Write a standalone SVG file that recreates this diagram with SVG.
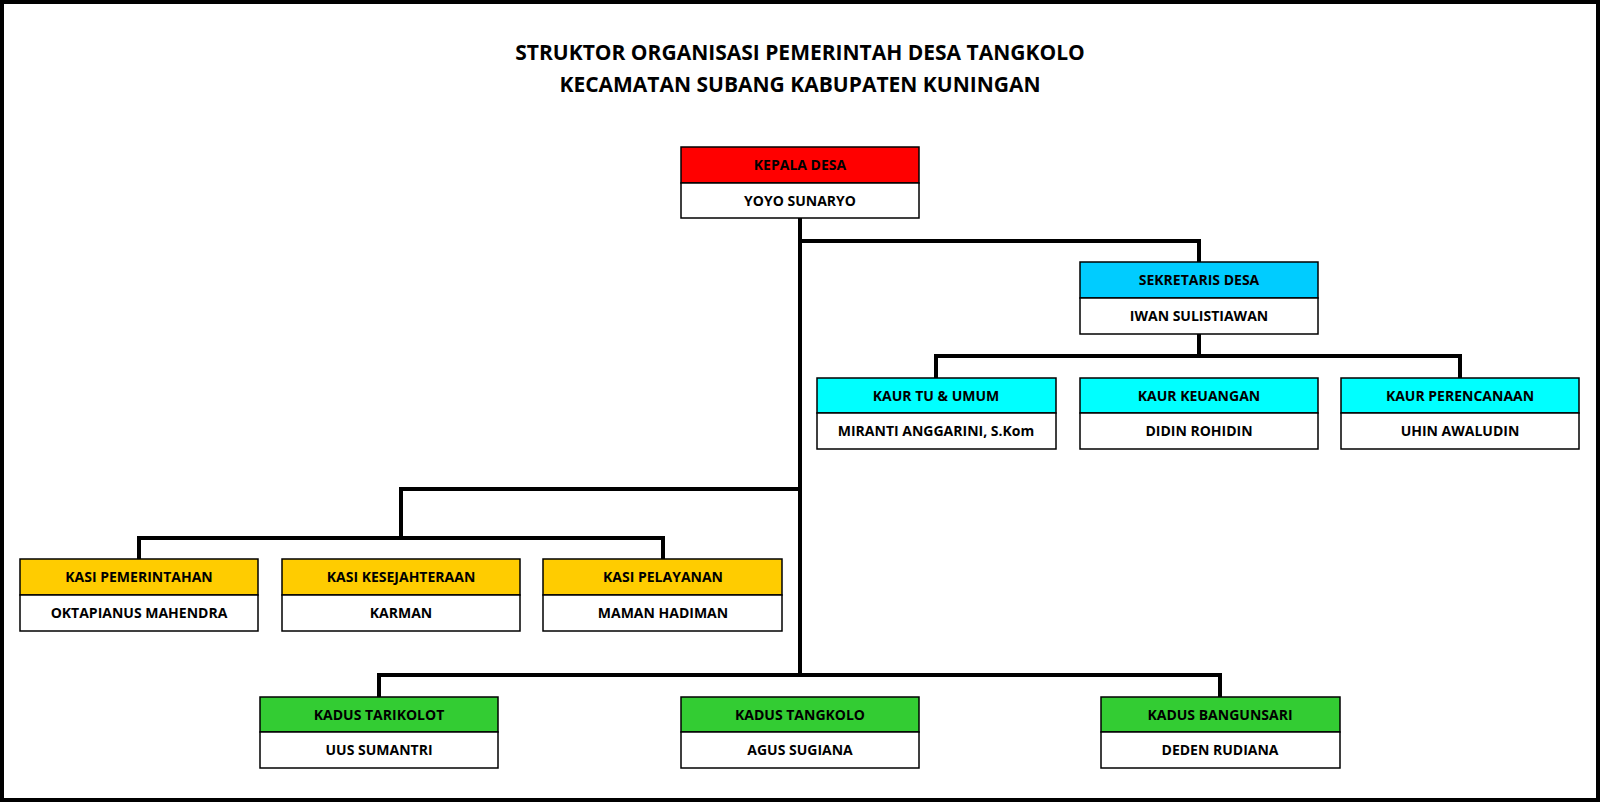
<svg xmlns="http://www.w3.org/2000/svg" width="1600" height="802" viewBox="0 0 1600 802">
<style>
.b{stroke:#000;stroke-width:1.5}
.w{fill:#fff}
t,text{font-family:"Open Sans","Liberation Sans",sans-serif;font-weight:700;text-anchor:middle}
.l{font-size:14px}
.t{font-size:21px}
.c{fill:none;stroke:#000;stroke-width:4}
</style>
<rect x="2" y="2" width="1596" height="798" fill="#fff" stroke="#000" stroke-width="4"/>
<text class="t" x="800" y="60">STRUKTOR ORGANISASI PEMERINTAH DESA TANGKOLO</text>
<text class="t" x="800" y="92">KECAMATAN SUBANG KABUPATEN KUNINGAN</text>
<g id="connectors">
<path class="c" d="M800 218V677M800 241H1199V262M1199 334V356M936 378V356H1460V378M800 489H401V538M139 559V538H663V559M379 697V675H1220V697"/>
</g>
<g id="kepala"><rect class="b" x="681" y="147" width="238" height="36" fill="#ff0000"/><rect class="b w" x="681" y="183" width="238" height="35"/><text class="l" x="800" y="170">KEPALA DESA</text><text class="l" x="800" y="206">YOYO SUNARYO</text></g>
<g id="sekretaris"><rect class="b" x="1080" y="262" width="238" height="36" fill="#00ccff"/><rect class="b w" x="1080" y="298" width="238" height="36"/><text class="l" x="1199" y="285">SEKRETARIS DESA</text><text class="l" x="1199" y="321">IWAN SULISTIAWAN</text></g>
<g id="kaur-tu"><rect class="b" x="817" y="378" width="239" height="35" fill="#00ffff"/><rect class="b w" x="817" y="413" width="239" height="36"/><text class="l" x="936" y="401">KAUR TU &amp; UMUM</text><text class="l" x="936" y="436">MIRANTI ANGGARINI, S.Kom</text></g>
<g id="kaur-keuangan"><rect class="b" x="1080" y="378" width="238" height="35" fill="#00ffff"/><rect class="b w" x="1080" y="413" width="238" height="36"/><text class="l" x="1199" y="401">KAUR KEUANGAN</text><text class="l" x="1199" y="436">DIDIN ROHIDIN</text></g>
<g id="kaur-perencanaan"><rect class="b" x="1341" y="378" width="238" height="35" fill="#00ffff"/><rect class="b w" x="1341" y="413" width="238" height="36"/><text class="l" x="1460" y="401">KAUR PERENCANAAN</text><text class="l" x="1460" y="436">UHIN AWALUDIN</text></g>
<g id="kasi-pemerintahan"><rect class="b" x="20" y="559" width="238" height="36" fill="#ffcc00"/><rect class="b w" x="20" y="595" width="238" height="36"/><text class="l" x="139" y="582">KASI PEMERINTAHAN</text><text class="l" x="139" y="618">OKTAPIANUS MAHENDRA</text></g>
<g id="kasi-kesejahteraan"><rect class="b" x="282" y="559" width="238" height="36" fill="#ffcc00"/><rect class="b w" x="282" y="595" width="238" height="36"/><text class="l" x="401" y="582">KASI KESEJAHTERAAN</text><text class="l" x="401" y="618">KARMAN</text></g>
<g id="kasi-pelayanan"><rect class="b" x="543" y="559" width="239" height="36" fill="#ffcc00"/><rect class="b w" x="543" y="595" width="239" height="36"/><text class="l" x="663" y="582">KASI PELAYANAN</text><text class="l" x="663" y="618">MAMAN HADIMAN</text></g>
<g id="kadus-tarikolot"><rect class="b" x="260" y="697" width="238" height="35" fill="#33cc33"/><rect class="b w" x="260" y="732" width="238" height="36"/><text class="l" x="379" y="720">KADUS TARIKOLOT</text><text class="l" x="379" y="755">UUS SUMANTRI</text></g>
<g id="kadus-tangkolo"><rect class="b" x="681" y="697" width="238" height="35" fill="#33cc33"/><rect class="b w" x="681" y="732" width="238" height="36"/><text class="l" x="800" y="720">KADUS TANGKOLO</text><text class="l" x="800" y="755">AGUS SUGIANA</text></g>
<g id="kadus-bangunsari"><rect class="b" x="1101" y="697" width="239" height="35" fill="#33cc33"/><rect class="b w" x="1101" y="732" width="239" height="36"/><text class="l" x="1220" y="720">KADUS BANGUNSARI</text><text class="l" x="1220" y="755">DEDEN RUDIANA</text></g>
</svg>
